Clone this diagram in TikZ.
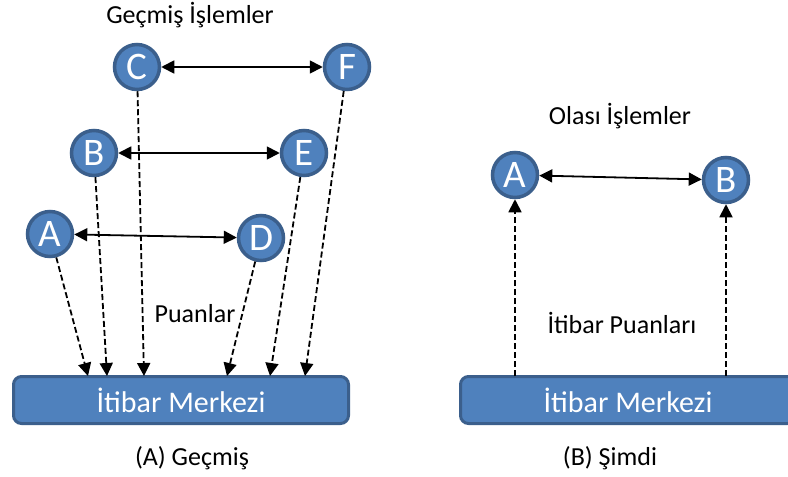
\documentclass[tikz,border=0pt]{standalone}
\usepackage{fontspec}
\setmainfont{Carlito}
\usetikzlibrary{arrows.meta}
\definecolor{fillblue}{HTML}{4F81BD}
\definecolor{edgeblue}{HTML}{3B5F8C}
\begin{document}
\begin{tikzpicture}[x=1pt,y=-1pt,
  circ/.style={circle, fill=fillblue, draw=edgeblue, line width=3.5pt,
    minimum size=45pt, inner sep=0pt, text=white,
    font=\fontsize{39}{39}\selectfont},
  bar/.style={rounded corners=8pt, fill=fillblue, draw=edgeblue, line width=3pt,
    text=white, font=\fontsize{30}{30}\selectfont,
    minimum width=335pt, minimum height=47pt, inner sep=0pt},
  tip/.tip={Triangle[length=13pt,width=13pt]},
  both/.style={tip-tip, line width=1.8pt},
  dsh/.style={-tip, dash pattern=on 6pt off 3pt, line width=1.8pt},
  lbl/.style={font=\fontsize{26}{26}\selectfont}
]
\clip (0,0) rectangle (788,477);

% ---- (A) past ----
\node[bar] (bar1) at (181,400) {İtibar Merkezi};
\node[circ] (C) at (137,67) {C};
\node[circ] (F) at (347,67) {F};
\node[circ] (B) at (94,153) {B};
\node[circ] (E) at (304,153) {E};
\node[circ] (A) at (50,234) {A};
\node[circ] (D) at (261,238) {D};

\draw[both] (C) -- (F);
\draw[both] (B) -- (E);
\draw[both] (A) -- (D);

\coordinate (pA) at (88,376);
\coordinate (pB) at (107,376);
\coordinate (pC) at (144,376);
\coordinate (pD) at (227,376);
\coordinate (pE) at (270,376);
\coordinate (pF) at (305,376);
\draw[dsh] (A) -- (pA);
\draw[dsh] (B) -- (pB);
\draw[dsh] (C) -- (pC);
\draw[dsh] (D) -- (pD);
\draw[dsh] (E) -- (pE);
\draw[dsh] (F) -- (pF);

\node[lbl] (t1) at (190,15) {Geçmiş İşlemler};
\node[lbl] (t2) at (195,314) {Puanlar};
\node[lbl] (t3) at (192,458) {(A) Geçmiş};

% ---- (B) now ----
\node[bar] (bar2) at (628,400) {İtibar Merkezi};
\node[circ] (A2) at (515,175) {A};
\node[circ] (B2) at (726,180) {B};
\draw[both] (A2) -- (B2);

\coordinate (qA) at (515,376);
\coordinate (qB) at (726,376);
\draw[dsh] (qA) -- (A2);
\draw[dsh] (qB) -- (B2);

\node[lbl] (t4) at (620,116) {Olası İşlemler};
\node[lbl] (t5) at (622,323) {İtibar Puanları};
\node[lbl] (t6) at (610,458) {(B) Şimdi};
\end{tikzpicture}
\end{document}
